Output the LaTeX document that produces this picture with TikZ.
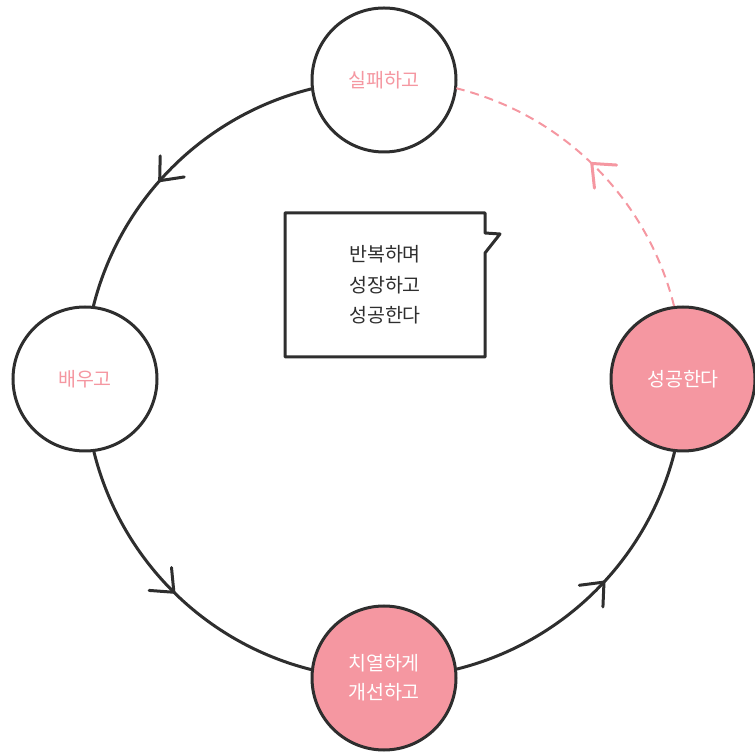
\documentclass[tikz,border=0pt]{standalone}
\usepackage{fontspec}
\setmainfont{Noto Sans CJK KR}
\usetikzlibrary{arrows.meta,decorations.markings}
\definecolor{pinkc}{HTML}{F597A1}
\definecolor{darkc}{HTML}{2E2E2E}
\begin{document}
\begin{tikzpicture}[x=1pt,y=1pt,
  stage/.style={circle,draw=darkc,line width=3pt,minimum size=144pt,inner sep=0pt,
    font=\fontsize{19.5}{29}\selectfont,align=center},
  plainstage/.style={stage,fill=white,text=pinkc},
  hotstage/.style={stage,fill=pinkc,text=white},
  flow/.style={line width=3pt,draw=darkc,line cap=round},
  backflow/.style={line width=2pt,draw=pinkc,dash pattern=on 9pt off 6pt},
  barb/.style={decoration={markings,mark=at position #1 with {\arrow[line width=3pt,solid]{Straight Barb[length=19pt,width=32pt,round]}}},postaction={decorate}},
]
\useasboundingbox (0,0) rectangle (755,755);
\coordinate (C) at (384,376);
\node[plainstage] (top) at (384,675) {실패하고};
\node[plainstage] (left) at (85,376) {배우고};
\node[hotstage] (bottom) at (384,77) {치열하게\\개선하고};
\node[hotstage] (right) at (683,376) {성공한다};

\draw[flow,barb=0.56] (top.187) arc[start angle=104,end angle=166,radius=299];
\draw[flow,barb=0.51] (left.277) arc[start angle=194,end angle=256,radius=299];
\draw[flow,barb=0.54] (bottom.7) arc[start angle=284,end angle=346,radius=299];
\draw[backflow,barb=0.52] (right.97) arc[start angle=14,end angle=76,radius=299];

\coordinate (b1) at (285,542);
\coordinate (b2) at (485,542);
\coordinate (b3) at (485,522);
\coordinate (b4) at (500,521);
\coordinate (b5) at (485,502);
\coordinate (b6) at (485,398);
\coordinate (b7) at (285,398);
\draw[line width=3pt,draw=darkc,line join=round] (b1) -- (b2) -- (b3) -- (b4) -- (b5) -- (b6) -- (b7) -- cycle;
\node[font=\fontsize{19.5}{30.5}\selectfont,align=center,text=darkc] (msg) at (385,470) {반복하며\\성장하고\\성공한다};
\end{tikzpicture}
\end{document}
